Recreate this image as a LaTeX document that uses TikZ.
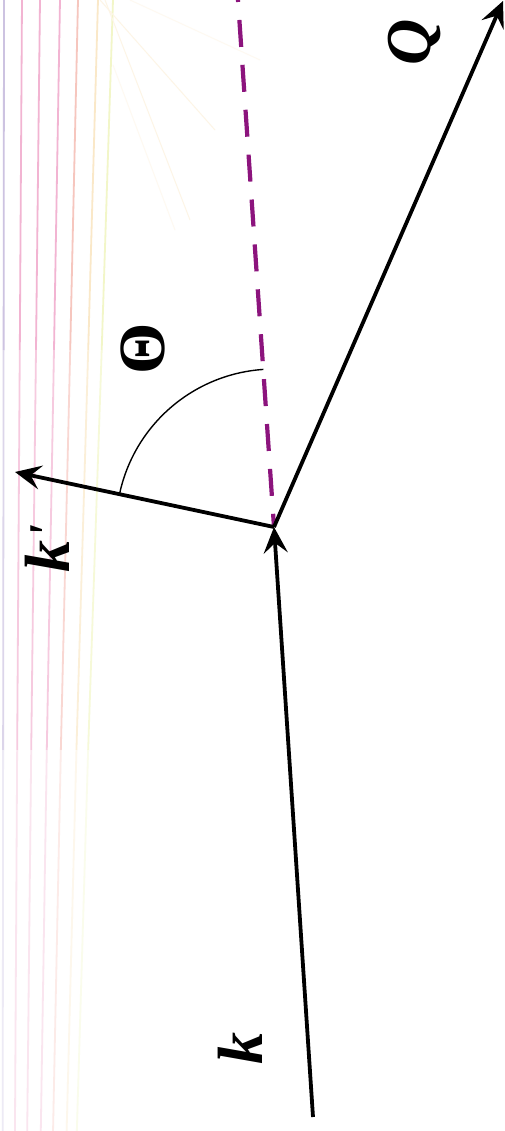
\documentclass[tikz,border=0pt]{standalone}
\usepackage{fontspec}
\newfontfamily\lblfont{Liberation Serif}
\usetikzlibrary{arrows.meta}
\definecolor{dashpurple}{RGB}{140,20,125}
\definecolor{rayA}{RGB}{205,195,225}
\definecolor{rayB}{RGB}{242,180,210}
\definecolor{rayC}{RGB}{246,198,190}
\definecolor{rayD}{RGB}{250,232,200}
\definecolor{rayE}{RGB}{242,246,200}
\tikzset{
  vec/.style={line width=3.8pt, black, -{Stealth[length=26pt,width=24pt,inset=10pt]}},
  dashline/.style={line width=4.2pt, dashpurple, dash pattern=on 27pt off 18pt, dash phase=25pt},
  anglearc/.style={line width=1.4pt, black},
  lbl/.style={rotate=90, inner sep=0pt, font=\lblfont\fontsize{64}{64}\selectfont\bfseries\itshape},
  ray/.style={line width=1.8pt},
  fan/.style={line width=1pt, rayD!45},
  fanlight/.style={line width=1pt, rayD!25}
}
\begin{document}
\begin{tikzpicture}[x=1pt,y=-1pt]
\useasboundingbox (0,0) rectangle (505,1131);
\fill[white] (0,0) rectangle (505,1131);
% faint background rays
\foreach \xt/\c in {4/rayA,22/rayB,40/rayB,60/rayB,78/rayC,98/rayD,113/rayE}{
  \draw[ray,\c] (\xt,0) -- ({\xt*0.9},350);
  \draw[ray,\c!70] ({\xt*0.9},350) -- ({\xt*0.78},750);
  \draw[ray,\c!35] ({\xt*0.78},750) -- ({\xt*0.68},1131);
}
\draw[fan] (100,0) -- (215,130);
\draw[fan] (105,0) -- (190,220);
\draw[fanlight] (113,65) -- (175,230);
\draw[fanlight] (130,0) -- (260,60);
% key points
\coordinate (V) at (274,527);
\coordinate (Ks) at (313,1117);
\coordinate (Kp) at (15,472);
\coordinate (Qe) at (503,1);
\coordinate (De) at (238,0);
\coordinate (A1) at (119.5,494.2);
% vectors
\draw[dashline] (De) -- (V);
\draw[vec] (Ks) -- (V);
\draw[vec] (V) -- (Kp);
\draw[vec] (V) -- (Qe);
% angle arc
\draw[anglearc] (A1) arc[start angle=192, end angle=266.1, radius=158];
% labels
\node[lbl] (lk) at (240,1048) {k};
\node[lbl] (lkp) at (47,549) {k\kern2pt\raisebox{6pt}{\fontsize{50}{50}\selectfont ʹ}};
\node[lbl] (lq) at (414,42) {Q};
\node[lbl, font=\lblfont\fontsize{66}{66}\selectfont\bfseries] (lt) at (143,349) {Θ};
\end{tikzpicture}
\end{document}
